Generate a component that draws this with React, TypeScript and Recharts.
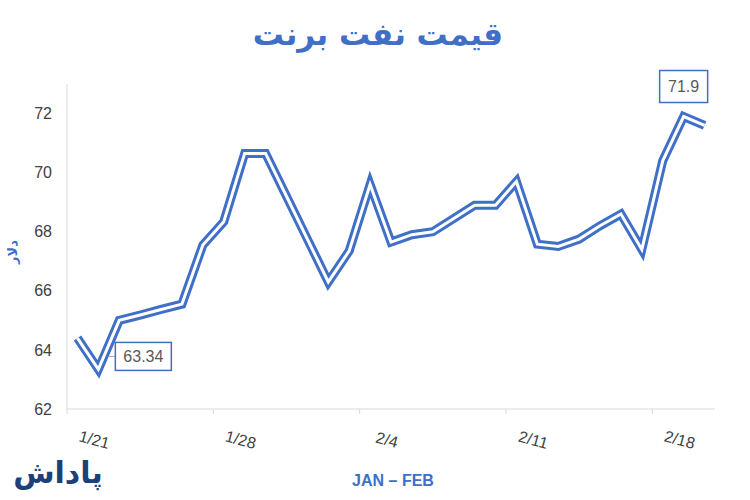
import React from 'react'
import { LineChart, Line, XAxis, YAxis } from 'recharts'

// daily closes, 1/21 .. 2/20
const dates = [
  '1/21', '1/22', '1/23', '1/24', '1/25', '1/26', '1/27', '1/28', '1/29', '1/30', '1/31',
  '2/1', '2/2', '2/3', '2/4', '2/5', '2/6', '2/7', '2/8', '2/9', '2/10',
  '2/11', '2/12', '2/13', '2/14', '2/15', '2/16', '2/17', '2/18', '2/19', '2/20'
]
const prices = [
  64.4, 63.34, 65.0, 65.18, 65.37, 65.55, 67.55, 68.34, 70.65, 70.65, 69.2,
  67.75, 66.3, 67.35, 69.6, 67.65, 67.9, 68.0, 68.45, 68.9, 68.9,
  69.7, 67.58, 67.5, 67.75, 68.2, 68.6, 67.4, 70.4, 71.9, 71.6
]
const tickLabels = ['1/21', '1/28', '2/4', '2/11', '2/18']
const yTicks = [62, 64, 66, 68, 70, 72]

const BLUE = '#3f6fc6'
const TEXT = '#404040'

const data = dates.map((date, i) => ({ i, date, price: prices[i] }))
// tick marks sit on the day boundaries
const xTicks = tickLabels.map((l) => dates.indexOf(l) - 0.5)

const minIdx = prices.indexOf(Math.min(...prices))
const maxIdx = prices.indexOf(Math.max(...prices))

const DateTick = (props: any) => {
  const { x, y, payload } = props
  const label = dates[Math.round(payload.value + 0.5)]
  return (
    <text
      transform={`translate(${x + 27},${y + 25}) rotate(15)`}
      textAnchor="middle"
      dominantBaseline="middle"
      fontSize={16}
      fill={TEXT}
      fontFamily="'Liberation Sans', Arial, sans-serif"
    >
      {label}
    </text>
  )
}

const Callout = (props: any) => {
  const { x, y, index, value } = props
  if (index !== minIdx && index !== maxIdx) return null
  const isMin = index === minIdx
  const text = String(value)
  const w = isMin ? 56 : 48
  const h = isMin ? 28 : 32
  const cx = isMin ? x + 45 : x
  const cy = isMin ? y - 13 : y - 30
  return (
    <g>
      {isMin && <line x1={x + 10} y1={cy} x2={cx - w / 2} y2={cy} stroke="#a6a6a6" strokeWidth={1} />}
      <rect x={cx - w / 2} y={cy - h / 2} width={w} height={h} fill="#fff" stroke={BLUE} strokeWidth={1.5} />
      <text
        x={cx}
        y={cy + 1}
        textAnchor="middle"
        dominantBaseline="middle"
        fontSize={16}
        fill="#595959"
        fontFamily="'Liberation Sans', Arial, sans-serif"
      >
        {text}
      </text>
    </g>
  )
}

export default function App() {
  return (
    <div style={{ position: 'absolute', left: 0, top: 0, width: 750, height: 500, background: '#fff' }}>
      <LineChart width={750} height={500} data={data} margin={{ top: 84, right: 35, left: 7, bottom: 61 }}>
        <XAxis
          type="number"
          dataKey="i"
          domain={[-0.5, dates.length - 0.5]}
          ticks={xTicks}
          interval={0}
          height={30}
          axisLine={{ stroke: '#d9d9d9' }}
          tickLine={{ stroke: '#d9d9d9' }}
          tickSize={5}
          tickMargin={2}
          tick={<DateTick />}
        />
        <YAxis
          type="number"
          domain={[62, 73]}
          ticks={yTicks}
          interval={0}
          width={60}
          axisLine={{ stroke: '#d9d9d9' }}
          tickLine={false}
          tickSize={0}
          tickMargin={15}
          tick={{ fontSize: 16, fill: TEXT, fontFamily: "'Liberation Sans', Arial, sans-serif" }}
        />
        <Line
          type="linear"
          dataKey="price"
          stroke={BLUE}
          strokeWidth={9}
          strokeLinejoin="miter"
          dot={false}
          activeDot={false}
          isAnimationActive={false}
        />
        <Line
          type="linear"
          dataKey="price"
          stroke="#ffffff"
          strokeWidth={3}
          strokeLinejoin="miter"
          dot={false}
          activeDot={false}
          isAnimationActive={false}
          label={<Callout />}
        />
        <text
          x={378}
          y={36}
          textAnchor="middle"
          dominantBaseline="middle"
          fontSize={31}
          fontWeight="bold"
          fill={BLUE}
          fontFamily="'DejaVu Sans', sans-serif"
          direction="rtl"
        >
          قیمت نفت برنت
        </text>
        <text
          transform="translate(13,252) rotate(-90)"
          textAnchor="middle"
          dominantBaseline="middle"
          fontSize={13}
          fontWeight="bold"
          fill={BLUE}
          fontFamily="'DejaVu Sans', sans-serif"
        >
          دلار
        </text>
        <text
          x={393}
          y={482}
          textAnchor="middle"
          dominantBaseline="middle"
          fontSize={16}
          fontWeight="bold"
          fill={BLUE}
          fontFamily="'Liberation Sans Narrow', 'Liberation Sans', Arial, sans-serif"
        >
          JAN – FEB
        </text>
        <text
          x={58}
          y={474}
          textAnchor="middle"
          dominantBaseline="middle"
          fontSize={30}
          fontWeight="bold"
          fill="#1d3f7a"
          fontFamily="'DejaVu Sans', sans-serif"
        >
          پاداش
        </text>
      </LineChart>
    </div>
  )
}
